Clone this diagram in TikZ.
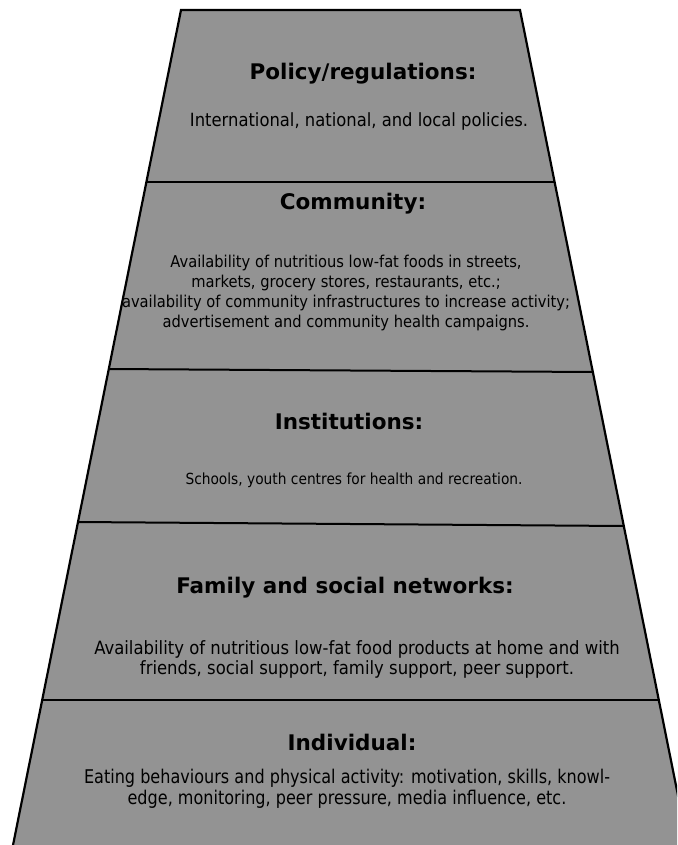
\documentclass[tikz,border=0pt]{standalone}
\usepackage{fontspec}
\setmainfont{DejaVu Sans}
\newfontfamily\bodyfont[FakeStretch=0.9]{DejaVu Sans}
\newfontfamily\indfont[FakeStretch=0.85]{DejaVu Sans}
\definecolor{layergray}{RGB}{147,147,147}
\begin{document}
\begin{tikzpicture}[x=1pt,y=-1pt,
  edge/.style={line width=2.2pt,line join=miter},
  divider/.style={line width=2pt},
  title/.style={font=\bfseries\fontsize{21.5}{24}\selectfont,inner sep=0pt},
  body/.style={align=center,inner sep=0pt}]
\useasboundingbox (0,0) rectangle (677,845);
\clip (0,0) rectangle (677,845);
\coordinate (tl) at (181,10);
\coordinate (tr) at (520,10);
\coordinate (bl) at (9,865);
\coordinate (br) at (692,865);
\fill[layergray] (tl) -- (tr) -- (br) -- (bl) -- cycle;
\coordinate (d1l) at (146.4,182); \coordinate (d1r) at (554.6,182);
\coordinate (d2l) at (108.8,369); \coordinate (d2r) at (592.8,372);
\coordinate (d3l) at (78.0,522);  \coordinate (d3r) at (623.8,526);
\coordinate (d4l) at (42.2,700);  \coordinate (d4r) at (658.8,700);
\draw[divider] (d1l) -- (d1r);
\draw[divider] (d2l) -- (d2r);
\draw[divider] (d3l) -- (d3r);
\draw[divider] (d4l) -- (d4r);
\draw[edge] (bl) -- (tl) -- (tr) -- (br);
\node[title] (t1) at (363,74) {Policy/regulations:};
\node[body,font=\bodyfont\fontsize{18.2}{20}\selectfont] (b1) at (359,121) {International, national, and local policies.};
\node[title] (t2) at (353,204) {Community:};
\node[body,font=\bodyfont\fontsize{16.3}{20.2}\selectfont] (b2) at (346,293) {Availability of nutritious low-fat foods in streets,\\markets, grocery stores, restaurants, etc.;\\availability of community infrastructures to increase activity;\\advertisement and community health campaigns.};
\node[title] (t3) at (349,421) {Institutions:};
\node[body,font=\bodyfont\fontsize{15.3}{18}\selectfont] (b3) at (354,480) {Schools, youth centres for health and recreation.};
\node[title] (t4) at (345,588) {Family and social networks:};
\node[body,font=\bodyfont\fontsize{18.3}{20.5}\selectfont] (b4) at (357,659.5) {Availability of nutritious low-fat food products at home and with\\friends, social support, family support, peer support.};
\node[title] (t5) at (352,742) {Individual:};
\node[body,font=\indfont\fontsize{18.9}{20.5}\selectfont] (b5) at (347,789) {Eating behaviours and physical activity: motivation, skills, knowl-\\edge, monitoring, peer pressure, media influence, etc.};
\end{tikzpicture}
\end{document}
